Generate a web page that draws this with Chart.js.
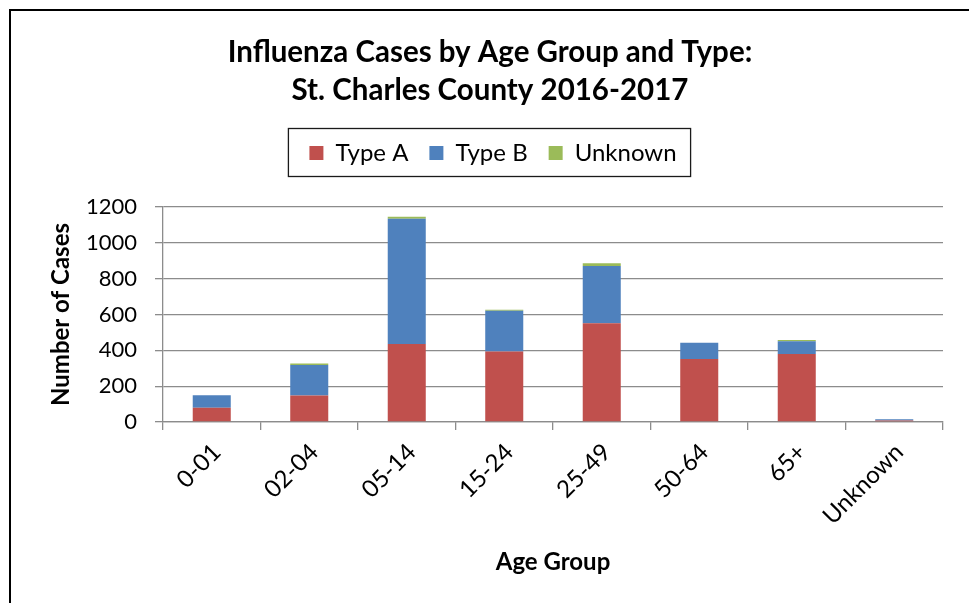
<!DOCTYPE html>
<html>
<head>
<meta charset="utf-8">
<script src="https://cdn.jsdelivr.net/npm/chart.js@4/dist/chart.umd.min.js"></script>
<style>
  html, body { margin: 0; padding: 0; background: #fff; }
  body { width: 969px; height: 603px; position: relative; overflow: hidden; }
  #frame { position: absolute; left: 9px; top: 9px; width: 980px; height: 620px;
           border-left: 2.5px solid #000; border-top: 2.5px solid #000; box-sizing: border-box; }
  #wrap { position: absolute; left: 0; top: 0; width: 969px; height: 603px; }
</style>
</head>
<body>
<div id="frame"></div>
<div id="wrap"><canvas id="c"></canvas></div>
<script>
const categories = ['0-01', '02-04', '05-14', '15-24', '25-49', '50-64', '65+', 'Unknown'];
const typeA   = [79, 148, 436, 393, 551, 351, 380, 8];
const typeB   = [71, 170, 699, 228, 320, 92, 71, 8];
const unknown = [0, 8, 10, 6, 15, 0, 7, 0];
const yTicks  = [0, 200, 400, 600, 800, 1000, 1200];

const FONT = 'Lato, "Open Sans", sans-serif';

const legendBorder = {
  id: 'legendBorder',
  afterLayout(chart) {
    const lg = chart.legend;
    if (lg) { lg.left += 3; lg.right += 3; }
  },
  afterDraw(chart) {
    const lg = chart.legend;
    if (!lg || !lg.legendHitBoxes || !lg.legendHitBoxes.length) return;
    const hb = lg.legendHitBoxes;
    const first = hb[0], last = hb[hb.length - 1];
    const cy = first.top + first.height / 2;
    const x0 = first.left - 21, x1 = last.left + last.width + 14;
    const ctx = chart.ctx;
    ctx.save();
    ctx.strokeStyle = '#1a1a1a';
    ctx.lineWidth = 1.3;
    ctx.strokeRect(x0, cy - 24.5, x1 - x0, 48);
    ctx.restore();
  }
};

new Chart(document.getElementById('c'), {
  type: 'bar',
  data: {
    labels: categories,
    datasets: [
      { label: 'Type A', data: typeA, backgroundColor: '#C0504D' },
      { label: 'Type B', data: typeB, backgroundColor: '#4F81BD' },
      { label: 'Unknown', data: unknown, backgroundColor: '#9BBB59' }
    ]
  },
  plugins: [legendBorder],
  options: {
    responsive: true,
    maintainAspectRatio: false,
    animation: false,
    layout: { padding: { left: 37, right: 26, top: 0, bottom: 26 } },
    datasets: { bar: { barPercentage: 0.39, categoryPercentage: 1 } },
    plugins: {
      title: {
        display: true,
        text: ['Influenza Cases by Age Group and Type:', 'St. Charles County 2016-2017'],
        color: '#000',
        font: { family: FONT, size: 29.5, weight: 'bold', lineHeight: 1.29 },
        padding: { top: 33.5, bottom: 10 }
      },
      subtitle: {
        display: true,
        text: '',
        weight: 500,
        font: { size: 1, lineHeight: 1 },
        padding: { top: 0, bottom: 31 }
      },
      legend: {
        display: true,
        position: 'top',
        labels: {
          color: '#000',
          font: { family: FONT, size: 24 },
          boxWidth: 14, boxHeight: 14,
          padding: 21
        }
      },
      tooltip: { enabled: false }
    },
    scales: {
      x: {
        stacked: true,
        grid: { display: true, drawOnChartArea: false, drawTicks: true, tickLength: 8, offset: true, color: '#8c8c8c', lineWidth: 1.3 },
        border: { display: true, color: '#8c8c8c', width: 1.3 },
        ticks: { color: '#000', font: { family: FONT, size: 24 }, maxRotation: 45, minRotation: 45, padding: 8, labelOffset: 5, autoSkip: false },
        title: { display: true, text: 'Age Group', color: '#000', font: { family: FONT, size: 24, weight: 'bold' }, padding: { top: 0, bottom: 0 } },
        afterFit(scale) { scale.height = 155; scale.paddingLeft = 0; scale.paddingRight = 0; }
      },
      y: {
        stacked: true,
        min: 0, max: 1200,
        afterBuildTicks(scale) { scale.ticks = yTicks.map(v => ({ value: v })); },
        grid: { display: true, drawOnChartArea: true, drawTicks: true, tickLength: 8, color: '#8c8c8c', lineWidth: 1.3 },
        border: { display: true, color: '#8c8c8c', width: 1.3 },
        ticks: { color: '#000', font: { family: FONT, size: 22 }, padding: 18, callback: (v) => String(v) },
        title: { display: true, text: 'Number of Cases', color: '#000', font: { family: FONT, size: 24, weight: 'bold' }, padding: { top: 10, bottom: 0 } },
        afterFit(scale) { scale.width = 126; scale.paddingTop = 207; }
      }
    }
  }
});
</script>
</body>
</html>
